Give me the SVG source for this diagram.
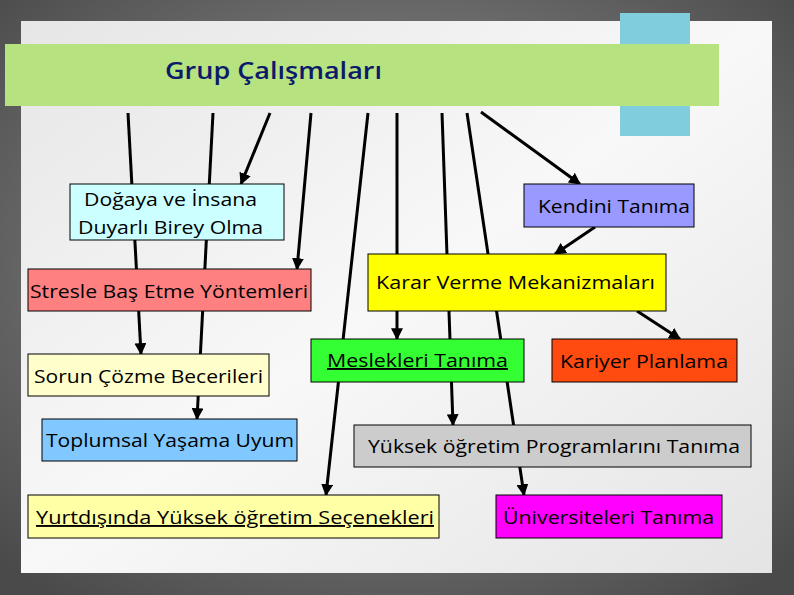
<svg xmlns="http://www.w3.org/2000/svg" width="794" height="595" viewBox="0 0 794 595">
<defs>
<radialGradient id="bg" cx="50%" cy="45%" r="70%"><stop offset="0" stop-color="#9a9a9a"/><stop offset="1" stop-color="#4a4a4a"/></radialGradient>
<linearGradient id="pn" x1="0" y1="0" x2="1" y2="1"><stop offset="0" stop-color="#e6e6e6"/><stop offset="0.5" stop-color="#f8f8f8"/><stop offset="1" stop-color="#e4e4e4"/></linearGradient>
<marker id="ah" viewBox="0 0 10 10" refX="9" refY="5" markerWidth="4" markerHeight="4" orient="auto" markerUnits="strokeWidth"><path d="M0,0 L10,5 L0,10 z" fill="#000"/></marker>
</defs>
<style>
.c line{stroke:#000;stroke-width:3;}
.a{marker-end:url(#ah);}
.n rect{stroke:#000;stroke-width:1;}
text{font-family:"Open Sans","Liberation Sans",sans-serif;font-size:19px;fill:#000;}
</style>
<rect width="794" height="595" fill="url(#bg)"/>
<rect x="21" y="21" width="751" height="552" fill="url(#pn)"/>
<rect x="620" y="13" width="70" height="123" fill="#7fcddd"/>
<rect x="5" y="44" width="714" height="62" fill="#b6e37f"/>
<text x="165" y="79" style="fill:#0d1a6b;font-size:24px;font-weight:600" textLength="217" lengthAdjust="spacingAndGlyphs">Grup Çalışmaları</text>
<g class="c">
<line class="a" x1="128" y1="113" x2="141" y2="354"/>
<line class="a" x1="213" y1="113" x2="197" y2="419"/>
<line class="a" x1="270" y1="113" x2="241" y2="184"/>
<line class="a" x1="311" y1="113" x2="297" y2="269"/>
<line class="a" x1="368" y1="113" x2="326" y2="495"/>
<line class="a" x1="397" y1="113" x2="397" y2="339"/>
<line class="a" x1="442" y1="113" x2="453" y2="425"/>
<line class="a" x1="467" y1="113" x2="524" y2="495"/>
<line class="a" x1="481" y1="112" x2="580" y2="184"/>
<line class="a" x1="595" y1="227" x2="555" y2="254"/>
<line class="a" x1="637" y1="311" x2="680" y2="339"/>
</g>
<g id="n1" class="n"><rect x="70" y="184" width="214" height="56" fill="#ccffff"/><text x="84" y="206" textLength="173" lengthAdjust="spacingAndGlyphs">Doğaya ve İnsana</text><text x="78" y="234" textLength="185" lengthAdjust="spacingAndGlyphs">Duyarlı Birey Olma</text></g>
<g id="n2" class="n"><rect x="524" y="184" width="170" height="43" fill="#9999ff"/><text x="538" y="213" textLength="152" lengthAdjust="spacingAndGlyphs">Kendini Tanıma</text></g>
<g id="n3" class="n"><rect x="28" y="269" width="283" height="42" fill="#ff8080"/><text x="30" y="298" textLength="278" lengthAdjust="spacingAndGlyphs">Stresle Baş Etme Yöntemleri</text></g>
<g id="n4" class="n"><rect x="368" y="254" width="298" height="57" fill="#ffff00"/><text x="376" y="289" textLength="279" lengthAdjust="spacingAndGlyphs">Karar Verme Mekanizmaları</text></g>
<g id="n5" class="n"><rect x="28" y="354" width="241" height="42" fill="#ffffcc"/><text x="34" y="383" textLength="229" lengthAdjust="spacingAndGlyphs">Sorun Çözme Becerileri</text></g>
<g id="n6" class="n"><rect x="311" y="339" width="213" height="43" fill="#33ff33"/><text x="327" y="367" textLength="181" lengthAdjust="spacingAndGlyphs" text-decoration="underline">Meslekleri Tanıma</text></g>
<g id="n7" class="n"><rect x="552" y="339" width="185" height="43" fill="#ff4a10"/><text x="560" y="368" textLength="168" lengthAdjust="spacingAndGlyphs">Kariyer Planlama</text></g>
<g id="n8" class="n"><rect x="42" y="419" width="255" height="42" fill="#80c8ff"/><text x="46" y="447" textLength="248" lengthAdjust="spacingAndGlyphs">Toplumsal Yaşama Uyum</text></g>
<g id="n9" class="n"><rect x="354" y="425" width="397" height="42" fill="#cccccc"/><text x="368" y="453" textLength="372" lengthAdjust="spacingAndGlyphs">Yüksek öğretim Programlarını Tanıma</text></g>
<g id="n10" class="n"><rect x="28" y="495" width="411" height="43" fill="#ffffa6"/><text x="36" y="524" textLength="398" lengthAdjust="spacingAndGlyphs" text-decoration="underline"> Yurtdışında Yüksek öğretim Seçenekleri</text></g>
<g id="n11" class="n"><rect x="496" y="495" width="226" height="43" fill="#ff00ff"/><text x="503" y="524" textLength="211" lengthAdjust="spacingAndGlyphs">Üniversiteleri Tanıma</text></g>
</svg>
